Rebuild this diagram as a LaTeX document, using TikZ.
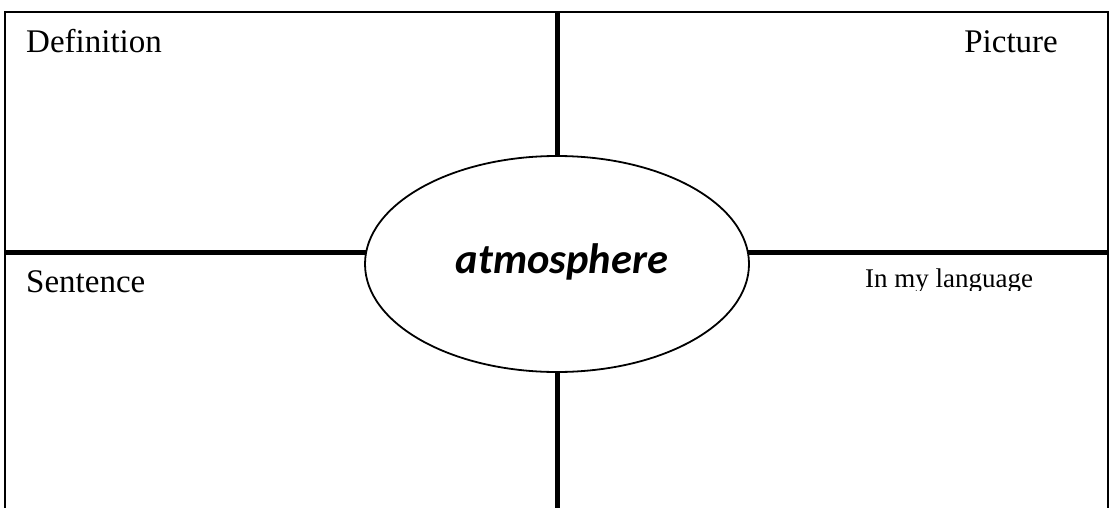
\documentclass[tikz,border=0pt]{standalone}
\usepackage{fontspec}
\setmainfont{Liberation Serif}
\newfontfamily\calib{Carlito}
\usetikzlibrary{shapes.geometric}
\begin{document}
\begin{tikzpicture}[x=1pt,y=-1pt,
  frame/.style={line width=1.6pt,line cap=rect},
  divider/.style={line width=5pt},
  oval/.style={ellipse,draw,line width=1.8pt,fill=white,minimum width=384pt,minimum height=216pt,inner sep=0pt},
  label/.style={inner sep=0pt,font=\fontsize{33}{37}\selectfont},
  word/.style={inner sep=0pt,font=\calib\bfseries\itshape\fontsize{42.5}{48}\selectfont}]
\useasboundingbox (0,0) rectangle (1110,508);
% frame (no bottom edge)
\coordinate (BL) at (5,508);
\coordinate (TL) at (5,12);
\coordinate (TR) at (1108,12);
\coordinate (BR) at (1108,508);
\draw[frame] (BL) -- (TL) -- (TR) -- (BR);
% dividers
\coordinate (c) at (557,264);
\coordinate (T) at (557,12);
\coordinate (B) at (557,508);
\coordinate (L) at (5,252);
\coordinate (R) at (1108,252);
\draw[divider] (T) -- (c) -- (B);
\draw[divider] (L) -- (R);
% central oval
\node[oval] (center) at (c) {};
\node[word,anchor=base] (w) at (562,273) {atmosphere};
% quadrant labels
\node[label,anchor=base west] (def) at (26,53) {Definition};
\node[label,anchor=base east] (pic) at (1058,53) {Picture};
\node[label,anchor=base west] (sen) at (26,292) {Sentence};
\begin{scope}
\clip (850,255) rectangle (1060,290);
\node[inner sep=0pt,font=\fontsize{27}{30}\selectfont,anchor=base west] (lang) at (865,287) {In my language};
\end{scope}
\end{tikzpicture}
\end{document}
